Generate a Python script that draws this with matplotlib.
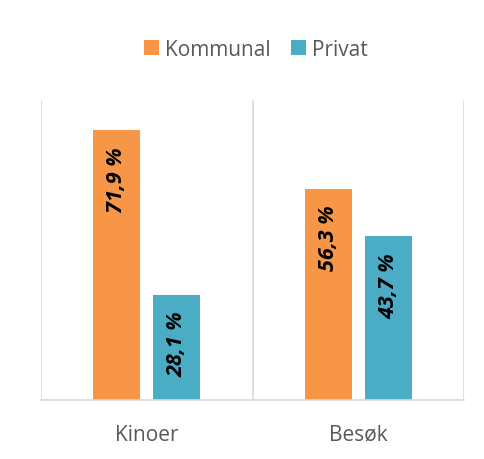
import numpy as np
from matplotlib import pyplot as plt

categories = ["Kinoer", "Besøk"]
kommunal = [71.9, 56.3]
privat = [28.1, 43.7]
series_names = ["Kommunal", "Privat"]
colors = ["#F79646", "#4BACC6"]

plt.rcParams['font.family'] = ['Open Sans', 'DejaVu Sans']

fig = plt.figure(figsize=(4.84, 4.6), dpi=100)
ax = fig.add_axes([41/484, 1 - 401/460, 423/484, 300/460])

x = np.arange(len(categories))
w = 0.222
off = 0.142
for vals, name, col, sh in [(kommunal, series_names[0], colors[0], -off),
                            (privat, series_names[1], colors[1], off)]:
    bars = ax.bar(x + sh, vals, w, color=col, label=name)
    for b, v in zip(bars, vals):
        ax.annotate(f"{v:.1f} %".replace(".", ","),
                    (b.get_x() + b.get_width()/2, b.get_height()),
                    xytext=(0, -11.5), textcoords="offset points",
                    rotation=90, ha="center", va="top",
                    fontsize=15.5, fontweight="bold", fontstyle="italic",
                    color="black")

ax.set_xlim(-0.5, len(categories) - 0.5)
ax.set_ylim(0, 80)
for gx in [-0.5, 0.5, 1.5]:
    ax.axvline(gx, color="#D9D9D9", lw=1.2, zorder=0)
for s in ["top", "left", "right"]:
    ax.spines[s].set_visible(False)
ax.spines["bottom"].set_color("#D9D9D9")
ax.spines["bottom"].set_linewidth(1.2)
ax.set_yticks([])
ax.set_xticks(x)
ax.set_xticklabels(categories, fontsize=15, color="#595959")
ax.tick_params(axis="x", length=0, pad=17)

fig.legend(loc="center", bbox_to_anchor=(256/484, 1 - 50/460), ncol=2, frameon=False,
           fontsize=15, labelcolor="#595959", handlelength=0.7, handleheight=0.7,
           handletextpad=0.3, columnspacing=1.0)

fig.savefig("out.png", dpi=100)
plt.close()
